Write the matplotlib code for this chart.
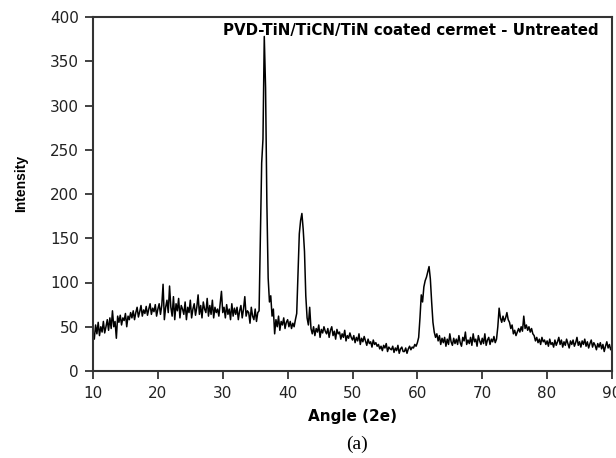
import numpy as np
import matplotlib.pyplot as plt

# XRD pattern, 0.2 degree steps from 10 to 90
intensity = [
    45, 36, 52, 42, 55, 40, 50, 44, 56, 43,      # 10-12
    50, 58, 46, 60, 48, 68, 50, 56, 37, 62,      # 12-14
    55, 63, 52, 60, 57, 65, 50, 62, 58, 66,      # 14-16
    60, 68, 58, 66, 72, 61, 67, 74, 62, 69,      # 16-18
    65, 73, 63, 70, 76, 64, 71, 67, 75, 62,      # 18-20
    70, 76, 64, 74, 98, 58, 72, 80, 66, 96,      # 20-22
    72, 62, 84, 58, 76, 68, 82, 60, 74, 70,      # 22-24
    64, 78, 58, 72, 66, 80, 60, 70, 76, 63,      # 24-26
    72, 86, 64, 74, 60, 78, 70, 66, 82, 62,      # 26-28
    74, 64, 80, 60, 72, 66, 70, 62, 76, 90,      # 28-30
    66, 72, 60, 75, 64, 70, 58, 76, 62, 71,      # 30-32
    64, 72, 58, 68, 74, 60, 70, 84, 62, 68,      # 32-34
    66, 54, 72, 62, 58, 70, 56, 66, 68, 150,     # 34-36
    235, 262, 378, 320, 190, 105, 78, 85, 62, 70,  # 36-38
    42, 58, 50, 62, 46, 56, 52, 60, 48, 55,      # 38-40
    58, 50, 56, 48, 54, 50, 58, 65, 110, 155,    # 40-42
    170, 178, 160, 135, 85, 60, 52, 72, 48, 42,  # 42-44
    50, 40, 48, 44, 52, 38, 47, 43, 50, 45,      # 44-46
    42, 48, 38, 46, 50, 40, 45, 36, 47, 42,      # 46-48
    44, 36, 42, 38, 46, 34, 40, 37, 43, 38,      # 48-50
    35, 40, 32, 38, 34, 42, 30, 37, 33, 39,      # 50-52
    34, 29, 36, 31, 33, 27, 35, 30, 32, 28,      # 52-54
    30, 25, 28, 23, 29, 26, 31, 22, 27, 25,      # 54-56
    24, 28, 21, 26, 23, 29, 20, 25, 27, 22,      # 56-58
    22, 26, 20, 25, 28, 24, 27, 26, 30, 28,      # 58-60
    32, 38, 60, 86, 78, 95, 102, 106, 112, 118,  # 60-62
    104, 78, 55, 44, 38, 42, 34, 40, 30, 37,     # 62-64
    32, 38, 28, 36, 30, 42, 33, 29, 37, 31,      # 64-66
    36, 30, 40, 32, 28, 38, 34, 44, 30, 35,      # 66-68
    31, 38, 29, 42, 33, 36, 28, 40, 34, 30,      # 68-70
    37, 31, 42, 29, 35, 38, 30, 36, 33, 39,      # 70-72
    32, 36, 50, 71, 60, 55, 62, 56, 60, 66,      # 72-74
    58, 55, 48, 52, 42, 46, 40, 44, 48, 44,      # 74-76
    50, 45, 62, 48, 52, 46, 50, 44, 48, 42,      # 76-78
    40, 34, 38, 32, 36, 30, 38, 33, 35, 30,      # 78-80
    34, 28, 36, 30, 32, 27, 35, 29, 33, 38,      # 80-82
    30, 35, 27, 33, 29, 36, 31, 26, 34, 30,      # 82-84
    35, 28, 32, 38, 29, 33, 27, 34, 30, 36,      # 84-86
    28, 33, 26, 31, 35, 27, 32, 29, 24, 31,      # 86-88
    27, 32, 25, 30, 22, 28, 33, 26, 30, 24,      # 88-90
    28,
]
angle = np.linspace(10, 90, len(intensity))

x_ticks = [10, 20, 30, 40, 50, 60, 70, 80, 90]
y_ticks = [0, 50, 100, 150, 200, 250, 300, 350, 400]

plt.rcParams['font.family'] = ['DejaVu Sans']

fig = plt.figure(figsize=(6.16, 4.58), dpi=100)
ax = fig.add_axes([93/616, 1 - 371/458, (612 - 93)/616, (371 - 17)/458])

ax.plot(angle, intensity, color='black', lw=1.1)

ax.set_xlim(10, 90)
ax.set_ylim(0, 400)
ax.set_xticks(x_ticks)
ax.set_yticks(y_ticks)
ax.tick_params(direction='out', length=6, width=1.3, labelsize=11, color='#333333',
               labelcolor='#222222')
ax.tick_params(axis='x', pad=5)
ax.tick_params(axis='y', pad=4)
for s in ax.spines.values():
    s.set_linewidth(1.5)
    s.set_color('#333333')

ax.text(88.0, 385, 'PVD-TiN/TiCN/TiN coated cermet - Untreated',
        ha='right', va='center', fontsize=10.8, fontweight='bold')

fig.text(21/616, 1 - 183/458, 'Intensity', rotation=90, ha='center', va='center',
         fontsize=10, fontweight='bold', family='Liberation Sans')
fig.text(352/616, 1 - 417/458, 'Angle (2e)', ha='center', va='center',
         fontsize=11, fontweight='bold')
fig.text(357/616, 1 - 444/458, '(a)', ha='center', va='center',
         fontsize=14, family='Liberation Serif')

fig.savefig('out.png', dpi=100)
